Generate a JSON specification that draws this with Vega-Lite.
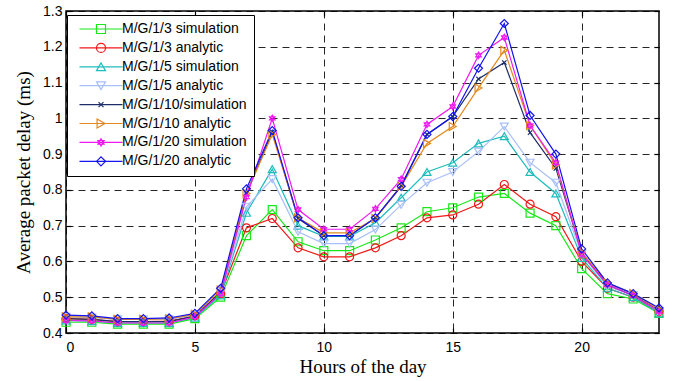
{
  "$schema": "https://vega.github.io/schema/vega-lite/v6.json",
  "width": 593,
  "height": 322,
  "autosize": {"type": "none"},
  "padding": {"left": 66, "top": 11, "right": 20, "bottom": 48},
  "background": "white",
  "config": {
    "view": {"stroke": "black", "strokeWidth": 1.5},
    "axis": {
      "grid": true,
      "gridColor": "black",
      "gridDash": [7, 5],
      "gridWidth": 1,
      "gridOpacity": 0.85,
      "domain": false,
      "ticks": true,
      "tickSize": -5,
      "tickColor": "black",
      "tickWidth": 1.2,
      "labelFont": "Liberation Sans",
      "labelFontSize": 14,
      "labelColor": "black",
      "titleFont": "Liberation Serif",
      "titleFontSize": 19,
      "titleFontWeight": "normal",
      "titleColor": "black"
    }
  },
  "data": {
    "values": [
      {"hour": 0, "M/G/1/3 simulation": 0.430, "M/G/1/3 analytic": 0.440, "M/G/1/5 simulation": 0.435, "M/G/1/5 analytic": 0.445, "M/G/1/10/simulation": 0.440, "M/G/1/10 analytic": 0.445, "M/G/1/20 simulation": 0.435, "M/G/1/20 analytic": 0.450},
      {"hour": 1, "M/G/1/3 simulation": 0.430, "M/G/1/3 analytic": 0.438, "M/G/1/5 simulation": 0.433, "M/G/1/5 analytic": 0.443, "M/G/1/10/simulation": 0.438, "M/G/1/10 analytic": 0.445, "M/G/1/20 simulation": 0.434, "M/G/1/20 analytic": 0.448},
      {"hour": 2, "M/G/1/3 simulation": 0.425, "M/G/1/3 analytic": 0.432, "M/G/1/5 simulation": 0.428, "M/G/1/5 analytic": 0.438, "M/G/1/10/simulation": 0.432, "M/G/1/10 analytic": 0.438, "M/G/1/20 simulation": 0.428, "M/G/1/20 analytic": 0.440},
      {"hour": 3, "M/G/1/3 simulation": 0.425, "M/G/1/3 analytic": 0.432, "M/G/1/5 simulation": 0.428, "M/G/1/5 analytic": 0.438, "M/G/1/10/simulation": 0.432, "M/G/1/10 analytic": 0.438, "M/G/1/20 simulation": 0.428, "M/G/1/20 analytic": 0.440},
      {"hour": 4, "M/G/1/3 simulation": 0.425, "M/G/1/3 analytic": 0.433, "M/G/1/5 simulation": 0.428, "M/G/1/5 analytic": 0.438, "M/G/1/10/simulation": 0.432, "M/G/1/10 analytic": 0.440, "M/G/1/20 simulation": 0.428, "M/G/1/20 analytic": 0.442},
      {"hour": 5, "M/G/1/3 simulation": 0.440, "M/G/1/3 analytic": 0.448, "M/G/1/5 simulation": 0.443, "M/G/1/5 analytic": 0.450, "M/G/1/10/simulation": 0.447, "M/G/1/10 analytic": 0.452, "M/G/1/20 simulation": 0.445, "M/G/1/20 analytic": 0.455},
      {"hour": 6, "M/G/1/3 simulation": 0.500, "M/G/1/3 analytic": 0.510, "M/G/1/5 simulation": 0.505, "M/G/1/5 analytic": 0.512, "M/G/1/10/simulation": 0.515, "M/G/1/10 analytic": 0.520, "M/G/1/20 simulation": 0.510, "M/G/1/20 analytic": 0.525},
      {"hour": 7, "M/G/1/3 simulation": 0.672, "M/G/1/3 analytic": 0.694, "M/G/1/5 simulation": 0.736, "M/G/1/5 analytic": 0.753, "M/G/1/10/simulation": 0.790, "M/G/1/10 analytic": 0.790, "M/G/1/20 simulation": 0.780, "M/G/1/20 analytic": 0.803},
      {"hour": 8, "M/G/1/3 simulation": 0.745, "M/G/1/3 analytic": 0.720, "M/G/1/5 simulation": 0.858, "M/G/1/5 analytic": 0.830, "M/G/1/10/simulation": 0.962, "M/G/1/10 analytic": 0.955, "M/G/1/20 simulation": 1.000, "M/G/1/20 analytic": 0.966},
      {"hour": 9, "M/G/1/3 simulation": 0.655, "M/G/1/3 analytic": 0.638, "M/G/1/5 simulation": 0.700, "M/G/1/5 analytic": 0.683, "M/G/1/10/simulation": 0.720, "M/G/1/10 analytic": 0.722, "M/G/1/20 simulation": 0.745, "M/G/1/20 analytic": 0.722},
      {"hour": 10, "M/G/1/3 simulation": 0.630, "M/G/1/3 analytic": 0.613, "M/G/1/5 simulation": 0.670, "M/G/1/5 analytic": 0.650, "M/G/1/10/simulation": 0.672, "M/G/1/10 analytic": 0.680, "M/G/1/20 simulation": 0.690, "M/G/1/20 analytic": 0.672},
      {"hour": 11, "M/G/1/3 simulation": 0.630, "M/G/1/3 analytic": 0.613, "M/G/1/5 simulation": 0.670, "M/G/1/5 analytic": 0.650, "M/G/1/10/simulation": 0.672, "M/G/1/10 analytic": 0.680, "M/G/1/20 simulation": 0.690, "M/G/1/20 analytic": 0.672},
      {"hour": 12, "M/G/1/3 simulation": 0.660, "M/G/1/3 analytic": 0.638, "M/G/1/5 simulation": 0.708, "M/G/1/5 analytic": 0.689, "M/G/1/10/simulation": 0.722, "M/G/1/10 analytic": 0.720, "M/G/1/20 simulation": 0.747, "M/G/1/20 analytic": 0.722},
      {"hour": 13, "M/G/1/3 simulation": 0.694, "M/G/1/3 analytic": 0.672, "M/G/1/5 simulation": 0.778, "M/G/1/5 analytic": 0.758, "M/G/1/10/simulation": 0.812, "M/G/1/10 analytic": 0.810, "M/G/1/20 simulation": 0.830, "M/G/1/20 analytic": 0.810},
      {"hour": 14, "M/G/1/3 simulation": 0.739, "M/G/1/3 analytic": 0.722, "M/G/1/5 simulation": 0.850, "M/G/1/5 analytic": 0.820, "M/G/1/10/simulation": 0.955, "M/G/1/10 analytic": 0.930, "M/G/1/20 simulation": 0.983, "M/G/1/20 analytic": 0.955},
      {"hour": 15, "M/G/1/3 simulation": 0.750, "M/G/1/3 analytic": 0.730, "M/G/1/5 simulation": 0.876, "M/G/1/5 analytic": 0.850, "M/G/1/10/simulation": 1.005, "M/G/1/10 analytic": 0.977, "M/G/1/20 simulation": 1.033, "M/G/1/20 analytic": 1.005},
      {"hour": 16, "M/G/1/3 simulation": 0.780, "M/G/1/3 analytic": 0.760, "M/G/1/5 simulation": 0.930, "M/G/1/5 analytic": 0.907, "M/G/1/10/simulation": 1.110, "M/G/1/10 analytic": 1.085, "M/G/1/20 simulation": 1.176, "M/G/1/20 analytic": 1.140},
      {"hour": 17, "M/G/1/3 simulation": 0.790, "M/G/1/3 analytic": 0.815, "M/G/1/5 simulation": 0.950, "M/G/1/5 analytic": 0.977, "M/G/1/10/simulation": 1.156, "M/G/1/10 analytic": 1.190, "M/G/1/20 simulation": 1.226, "M/G/1/20 analytic": 1.265},
      {"hour": 18, "M/G/1/3 simulation": 0.735, "M/G/1/3 analytic": 0.760, "M/G/1/5 simulation": 0.850, "M/G/1/5 analytic": 0.876, "M/G/1/10/simulation": 0.960, "M/G/1/10 analytic": 0.980, "M/G/1/20 simulation": 0.980, "M/G/1/20 analytic": 1.008},
      {"hour": 19, "M/G/1/3 simulation": 0.700, "M/G/1/3 analytic": 0.725, "M/G/1/5 simulation": 0.790, "M/G/1/5 analytic": 0.820, "M/G/1/10/simulation": 0.860, "M/G/1/10 analytic": 0.870, "M/G/1/20 simulation": 0.876, "M/G/1/20 analytic": 0.900},
      {"hour": 20, "M/G/1/3 simulation": 0.580, "M/G/1/3 analytic": 0.600, "M/G/1/5 simulation": 0.610, "M/G/1/5 analytic": 0.620, "M/G/1/10/simulation": 0.625, "M/G/1/10 analytic": 0.625, "M/G/1/20 simulation": 0.620, "M/G/1/20 analytic": 0.635},
      {"hour": 21, "M/G/1/3 simulation": 0.510, "M/G/1/3 analytic": 0.525, "M/G/1/5 simulation": 0.525, "M/G/1/5 analytic": 0.530, "M/G/1/10/simulation": 0.535, "M/G/1/10 analytic": 0.540, "M/G/1/20 simulation": 0.535, "M/G/1/20 analytic": 0.540},
      {"hour": 22, "M/G/1/3 simulation": 0.495, "M/G/1/3 analytic": 0.500, "M/G/1/5 simulation": 0.500, "M/G/1/5 analytic": 0.505, "M/G/1/10/simulation": 0.505, "M/G/1/10 analytic": 0.510, "M/G/1/20 simulation": 0.505, "M/G/1/20 analytic": 0.510},
      {"hour": 23, "M/G/1/3 simulation": 0.455, "M/G/1/3 analytic": 0.460, "M/G/1/5 simulation": 0.455, "M/G/1/5 analytic": 0.460, "M/G/1/10/simulation": 0.465, "M/G/1/10 analytic": 0.465, "M/G/1/20 simulation": 0.460, "M/G/1/20 analytic": 0.470}
    ]
  },
  "transform": [
    {"fold": ["M/G/1/3 simulation", "M/G/1/3 analytic", "M/G/1/5 simulation", "M/G/1/5 analytic", "M/G/1/10/simulation", "M/G/1/10 analytic", "M/G/1/20 simulation", "M/G/1/20 analytic"], "as": ["series", "delay"]}
  ],
  "layer": [
    {
      "mark": {"type": "line", "strokeWidth": 1.2},
      "encoding": {
        "x": {
          "field": "hour", "type": "quantitative",
          "scale": {"domain": [0, 23], "nice": false, "zero": false},
          "axis": {"values": [0, 5, 10, 15, 20], "title": "Hours of the day", "labelPadding": 12, "titleBaseline": "alphabetic", "titleY": 39}
        },
        "y": {
          "field": "delay", "type": "quantitative",
          "scale": {"domain": [0.4, 1.3], "nice": false, "zero": false},
          "axis": {"values": [0.4, 0.5, 0.6, 0.7, 0.8, 0.9, 1.0, 1.1, 1.2, 1.3], "format": ".1~f", "title": "Average packet delay (ms)", "labelPadding": 9, "titleX": -43, "titleBaseline": "middle"}
        },
        "stroke": {
          "field": "series", "type": "nominal",
          "scale": {
            "domain": ["M/G/1/3 simulation", "M/G/1/3 analytic", "M/G/1/5 simulation", "M/G/1/5 analytic", "M/G/1/10/simulation", "M/G/1/10 analytic", "M/G/1/20 simulation", "M/G/1/20 analytic"],
            "range": ["#18e818", "#f01818", "#20bcbc", "#a8bff8", "#1c2f6a", "#e2891c", "#f018f0", "#1414f0"]
          },
          "legend": {
            "orient": "none", "legendX": 1, "legendY": 4, "title": null,
            "symbolType": "M-4.78,0L4.78,0", "symbolSize": 81, "symbolStrokeWidth": 1.2,
            "symbolOffset": 20, "labelOffset": 14, "padding": 7, "rowPadding": 4.9,
            "fillColor": "white", "strokeColor": "black",
            "labelFont": "Liberation Sans", "labelFontSize": 14, "labelColor": "black", "labelLimit": 0, "zindex": 1
          }
        }
      }
    },
    {
      "mark": {"type": "point", "filled": false, "size": 64, "strokeWidth": 1.2, "opacity": 1},
      "encoding": {
        "x": {
          "field": "hour", "type": "quantitative",
          "axis": {"orient": "top", "values": [0, 5, 10, 15, 20], "title": null, "labels": false, "grid": false}
        },
        "y": {
          "field": "delay", "type": "quantitative",
          "axis": {"orient": "right", "values": [0.4, 0.5, 0.6, 0.7, 0.8, 0.9, 1.0, 1.1, 1.2, 1.3], "title": null, "labels": false, "grid": false}
        },
        "color": {
          "field": "series", "type": "nominal", "sort": null,
          "scale": {
            "range": ["#18e818", "#f01818", "#20bcbc", "#a8bff8", "#1c2f6a", "#e2891c", "#f018f0", "#1414f0"]
          },
          "legend": {
            "orient": "none", "legendX": 1, "legendY": 4, "title": null,
            "symbolSize": 81, "symbolStrokeWidth": 1.2,
            "symbolOffset": 20, "labelOffset": 14, "padding": 7, "rowPadding": 4.9,
            "labelFont": "Liberation Sans", "labelFontSize": 14, "labelColor": "black", "labelOpacity": 0, "labelLimit": 0, "zindex": 2
          }
        },
        "shape": {
          "field": "series", "type": "nominal", "sort": null,
          "scale": {
            "range": ["square", "circle", "triangle-up", "triangle-down", "M-0.55,-0.55L0.55,0.55M-0.55,0.55L0.55,-0.55", "triangle-right", "M0,-0.8L0.69,0.4L-0.69,0.4ZM0,0.8L0.69,-0.4L-0.69,-0.4Z", "diamond"]
          },
          "legend": {
            "orient": "none", "legendX": 1, "legendY": 4, "title": null,
            "symbolSize": 81, "symbolStrokeWidth": 1.2,
            "symbolOffset": 20, "labelOffset": 14, "padding": 7, "rowPadding": 4.9,
            "labelFont": "Liberation Sans", "labelFontSize": 14, "labelColor": "black", "labelOpacity": 0, "labelLimit": 0, "zindex": 2
          }
        }
      }
    }
  ],
  "resolve": {"axis": {"x": "independent", "y": "independent"}}
}
